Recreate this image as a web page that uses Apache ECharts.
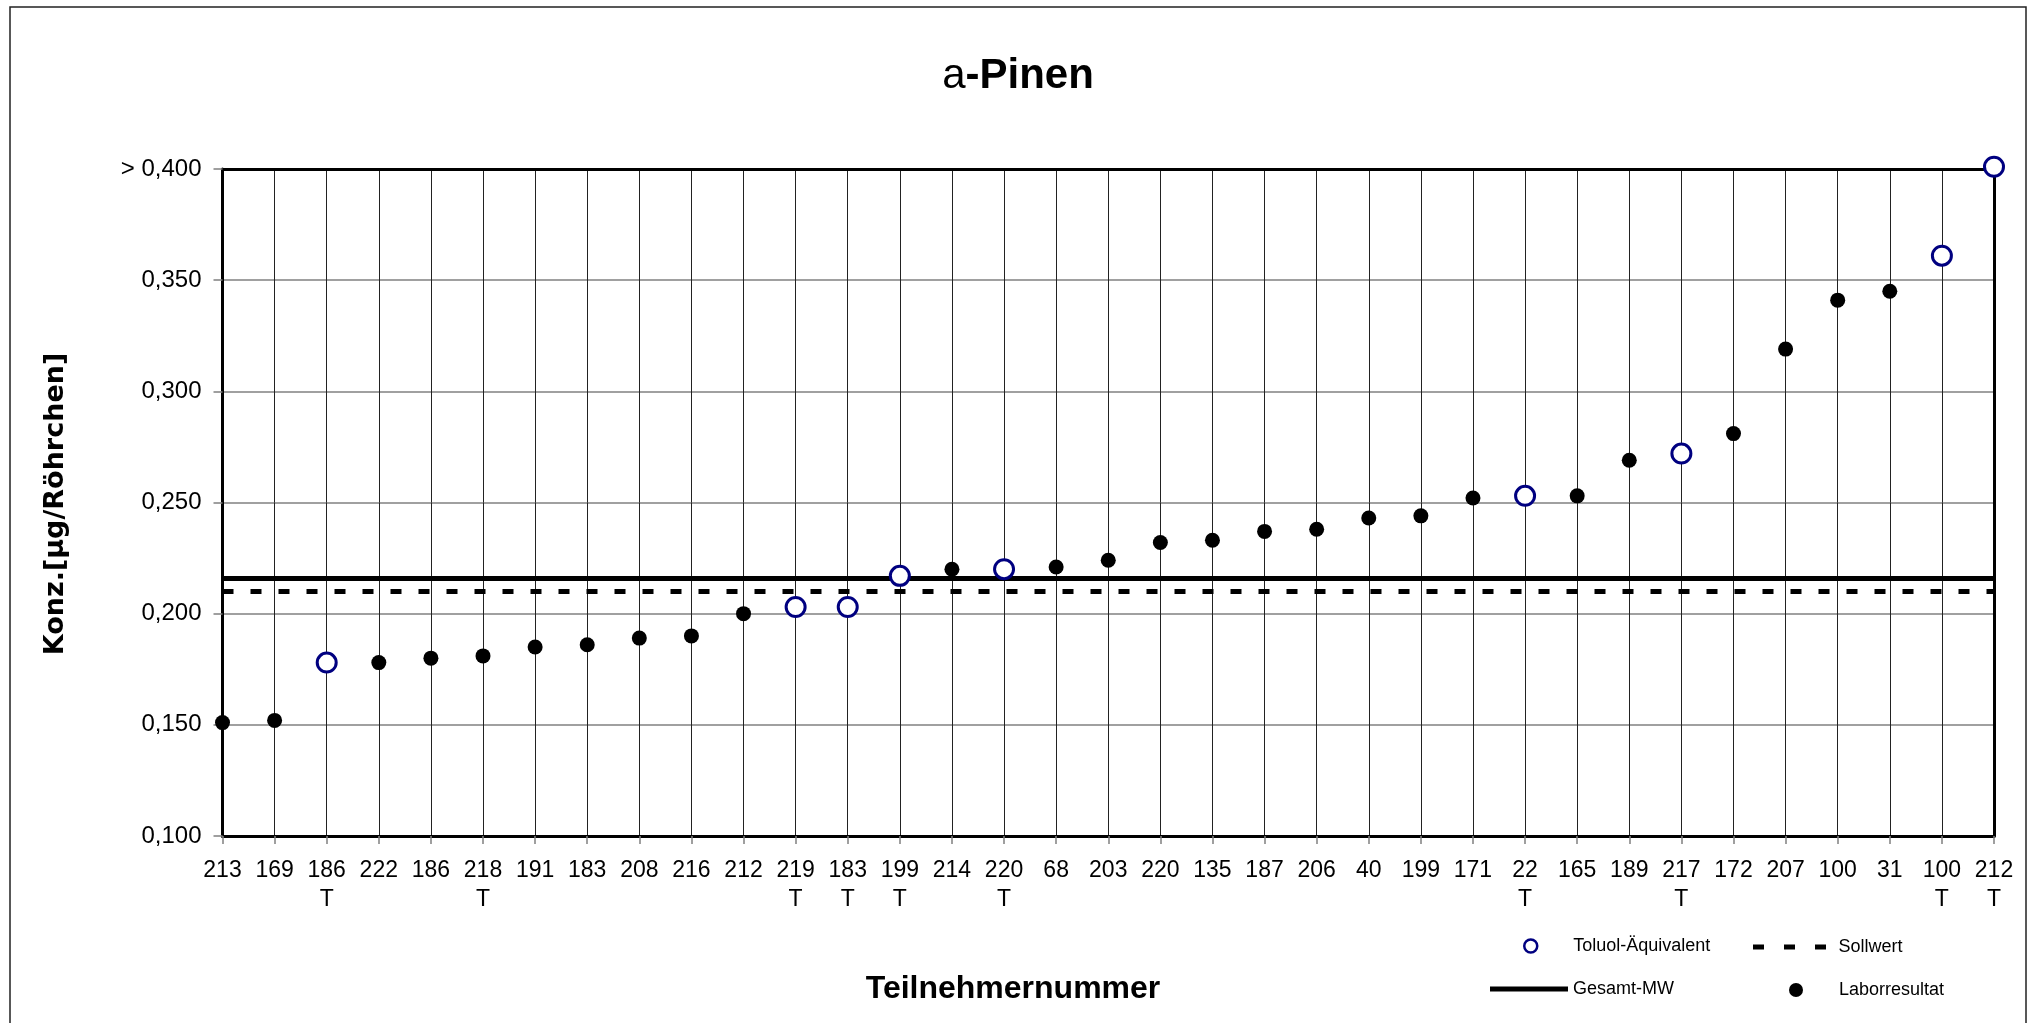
<!DOCTYPE html>
<html>
<head>
<meta charset="utf-8">
<title>a-Pinen</title>
<script src="https://cdn.jsdelivr.net/npm/echarts@6/dist/echarts.min.js"></script>
<style>
  html, body { margin: 0; padding: 0; background: #fff; }
  #chart { width: 2035px; height: 1023px; }
</style>
</head>
<body>
<div id="chart"></div>
<script>
// Teilnehmernummern, nach Ergebnis sortiert
const participants = ['213', '169', '186', '222', '186', '218', '191', '183', '208', '216', '212', '219', '183', '199', '214', '220', '68', '203', '220', '135', '187', '206', '40', '199', '171', '22', '165', '189', '217', '172', '207', '100', '31', '100', '212'];
// zweite Zeile unter der Nummer
const tMarks = ['', '', 'T', '', '', 'T', '', '', '', '', '', 'T', 'T', 'T', '', 'T', '', '', '', '', '', '', '', '', '', 'T', '', '', 'T', '', '', '', '', 'T', 'T'];

// Laborresultat (gefuellte Punkte)
const laborresultat = [0.151, 0.152, null, 0.178, 0.180, 0.181, 0.185, 0.186, 0.189, 0.190, 0.200, null, null, null, 0.220, null, 0.221, 0.224, 0.232, 0.233, 0.237, 0.238, 0.243, 0.244, 0.252, null, 0.253, 0.269, null, 0.281, 0.319, 0.341, 0.345, null, null];
// Toluol-Aequivalent (offene Kreise)
const toluolAequivalent = [null, null, 0.178, null, null, null, null, null, null, null, null, 0.203, 0.203, 0.217, null, 0.220, null, null, null, null, null, null, null, null, null, 0.253, null, null, 0.272, null, null, null, null, 0.361, 0.401];

const gesamtMW = 0.216;
const sollwert = 0.210;

const yTickLabels = ['0,100', '0,150', '0,200', '0,250', '0,300', '0,350', '> 0,400'];

const FONT = 'Liberation Sans, Arial, sans-serif';

const categories = participants.map((p, i) => tMarks[i] ? p + '\n' + tMarks[i] : p);
const toPoints = arr => arr.map((v, i) => [i, v]).filter(d => d[1] !== null);

const legendText = pad => ({
  fontFamily: FONT, fontSize: 18, color: '#000', lineHeight: 20, padding: pad
});

const dashIcon = 'path://M0,0h11v5h-11z M31,0h11v5h-11z M62,0h11v5h-11z';

const chart = echarts.init(document.getElementById('chart'));

chart.setOption({
  animation: false,
  backgroundColor: '#fff',
  grid: {left: 222.5, right: 41, top: 169, bottom: 187},
  graphic: [
    {
      type: 'rect', silent: true, z: -10,
      shape: {x: 10, y: 7, width: 2016, height: 1100},
      style: {fill: 'none', stroke: '#222', lineWidth: 1.5}
    },
    {
      type: 'text', x: 1018, y: 76,
      style: {
        text: '{a|a}{b|-Pinen}', align: 'center', verticalAlign: 'middle',
        rich: {
          a: {fontFamily: FONT, fontSize: 42, fontWeight: 'normal', fill: '#000'},
          b: {fontFamily: FONT, fontSize: 42, fontWeight: 'bold', fill: '#000'}
        }
      }
    },
    {
      type: 'text', x: 1013, y: 989,
      style: {
        text: 'Teilnehmernummer', align: 'center', verticalAlign: 'middle',
        fontFamily: FONT, fontSize: 32, fontWeight: 'bold', fill: '#000'
      }
    },
    {
      type: 'text', x: 56, y: 504, rotation: Math.PI / 2,
      style: {
        text: 'Konz.[µg/Röhrchen]', align: 'center', verticalAlign: 'middle',
        fontFamily: 'DejaVu Sans, sans-serif', fontSize: 27, fontWeight: 'bold', fill: '#000'
      }
    }
  ],
  legend: [
    {
      data: [{name: 'Toluol-Äquivalent', icon: 'circle', itemStyle: {color: '#fff', borderColor: '#000080', borderWidth: 2.5}}],
      left: 1523, top: 936, itemWidth: 13, itemHeight: 13, padding: 0, selectedMode: false,
      textStyle: legendText([0, 0, 0, 31])
    },
    {
      data: [{name: 'Sollwert', icon: dashIcon, itemStyle: {color: '#000', borderWidth: 0}}],
      left: 1753, top: 937, itemWidth: 74, itemHeight: 5, padding: 0, selectedMode: false,
      textStyle: legendText([0, 0, 0, 7])
    },
    {
      data: [{name: 'Gesamt-MW', icon: 'rect', itemStyle: {color: '#000', borderWidth: 0}}],
      left: 1490, top: 974, itemWidth: 78, itemHeight: 5, padding: 0, selectedMode: false,
      textStyle: legendText([10, 0, 0, 0])
    },
    {
      data: [{name: 'Laborresultat', icon: 'circle', itemStyle: {color: '#000', borderWidth: 0, opacity: 1}}],
      left: 1789, top: 977, itemWidth: 14, itemHeight: 14, padding: 0, selectedMode: false,
      textStyle: legendText([6, 0, 0, 31])
    }
  ],
  xAxis: [
    {
      type: 'category',
      data: categories,
      boundaryGap: false,
      position: 'bottom',
      axisLine: {show: true, lineStyle: {color: '#000', width: 3}},
      axisTick: {show: true, interval: 0, length: 8, lineStyle: {color: '#808080', width: 1.5}},
      axisLabel: {
        interval: 0, margin: 20, color: '#000',
        fontFamily: FONT, fontSize: 23, lineHeight: 29
      },
      splitLine: {
        show: true, interval: 0, showMinLine: false, showMaxLine: false,
        lineStyle: {color: '#222', width: 1}
      }
    },
    {
      type: 'category',
      data: categories,
      boundaryGap: false,
      position: 'top',
      axisLine: {show: true, lineStyle: {color: '#000', width: 3}},
      axisTick: {show: false},
      axisLabel: {show: false},
      splitLine: {show: false}
    }
  ],
  yAxis: [
    {
      type: 'value',
      min: 0.1, max: 0.4, interval: 0.05,
      position: 'left',
      axisLine: {show: true, lineStyle: {color: '#000', width: 3}},
      axisTick: {show: true, length: 9, lineStyle: {color: '#808080', width: 1.5}},
      axisLabel: {
        margin: 21, color: '#000', fontFamily: FONT, fontSize: 24,
        formatter: (v, i) => yTickLabels[i]
      },
      splitLine: {
        show: true, showMinLine: false, showMaxLine: false,
        lineStyle: {color: '#808080', width: 1.5}
      }
    },
    {
      type: 'value',
      min: 0.1, max: 0.4, interval: 0.05,
      position: 'right',
      axisLine: {show: true, lineStyle: {color: '#000', width: 3}},
      axisTick: {show: false},
      axisLabel: {show: false},
      splitLine: {show: false}
    }
  ],
  series: [
    {
      name: 'Gesamt-MW',
      type: 'line',
      color: '#000',
      data: [],
      z: 3,
      markLine: {
        silent: true, symbol: 'none', label: {show: false}, precision: 4,
        lineStyle: {color: '#000', width: 5, type: 'solid'},
        data: [{yAxis: gesamtMW}]
      }
    },
    {
      name: 'Sollwert',
      type: 'line',
      color: '#000',
      data: [],
      z: 3,
      markLine: {
        silent: true, symbol: 'none', label: {show: false}, precision: 4,
        lineStyle: {color: '#000', width: 5, type: [11, 17]},
        data: [{yAxis: sollwert}]
      }
    },
    {
      name: 'Laborresultat',
      type: 'scatter',
      data: toPoints(laborresultat),
      symbol: 'circle',
      symbolSize: 15,
      clip: false,
      z: 5,
      itemStyle: {color: '#000', opacity: 1}
    },
    {
      name: 'Toluol-Äquivalent',
      type: 'scatter',
      data: toPoints(toluolAequivalent),
      symbol: 'circle',
      symbolSize: 19,
      clip: false,
      z: 5,
      itemStyle: {color: '#fff', borderColor: '#000080', borderWidth: 3, opacity: 1}
    }
  ]
});
</script>
</body>
</html>
